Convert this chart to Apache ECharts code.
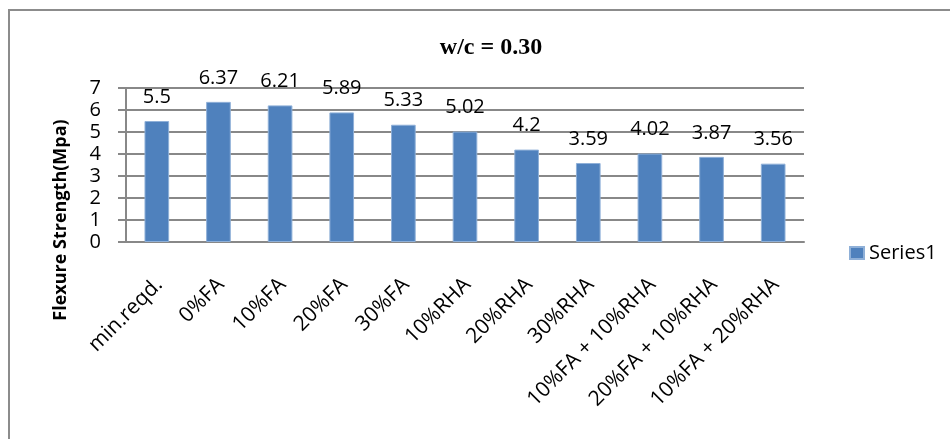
<!DOCTYPE html>
<html><head><meta charset="utf-8">
<script src="https://cdn.jsdelivr.net/npm/echarts@6/dist/echarts.min.js"></script>
<style>html,body{margin:0;padding:0;background:#fff}#c{width:950px;height:439px}</style>
</head><body><div id="c"></div>
<script>
const categories = ["min.reqd.", "0%FA", "10%FA", "20%FA", "30%FA", "10%RHA", "20%RHA", "30%RHA", "10%FA + 10%RHA", "20%FA + 10%RHA", "10%FA + 20%RHA"];
const series1 = [5.5, 6.37, 6.21, 5.89, 5.33, 5.02, 4.2, 3.59, 4.02, 3.87, 3.56];
const yTicks = [0, 1, 2, 3, 4, 5, 6, 7];
const yAxisTitle = 'Flexure Strength(Mpa)';
const FONT = "'Open Sans', Lato, sans-serif";
const chart = echarts.init(document.getElementById('c'));
chart.setOption({
  animation: false,
  backgroundColor: '#fff',
  graphic: [
    {type: 'rect', shape: {x: 9, y: 10, width: 960, height: 450}, style: {fill: 'none', stroke: '#8c8c8c', lineWidth: 2}, silent: true},
    {type: 'text', x: 61, y: 220, rotation: Math.PI / 2,
      style: {text: yAxisTitle, font: "bold 18px 'Open Sans', sans-serif", fill: '#000', textAlign: 'center', textVerticalAlign: 'middle'}}
  ],
  title: {text: 'w/c = 0.30', left: 486, top: 31, textAlign: 'center',
    textStyle: {fontFamily: "'Liberation Serif', 'DejaVu Serif', serif", fontWeight: 'bold', fontSize: 24, color: '#000'}},
  legend: {data: ['Series1'], left: 844, top: 238, orient: 'vertical', itemWidth: 14, itemHeight: 12, itemGap: 6,
    textStyle: {fontFamily: FONT, fontSize: 20, color: '#000'}, icon: 'rect'},
  grid: {left: 126, right: 146, top: 88, bottom: 197, containLabel: false},
  xAxis: {type: 'category', data: categories,
    axisLine: {lineStyle: {color: '#888', width: 2}},
    axisTick: {show: false},
    axisLabel: {rotate: 45, interval: 0, margin: 27, verticalAlign: 'top', padding: [0, 7, 0, 0], fontFamily: FONT, fontSize: 21, color: '#000'}},
  yAxis: {type: 'value', min: 0, max: 7, interval: 1,
    axisLine: {show: true, lineStyle: {color: '#888', width: 2}},
    axisTick: {show: true, length: 8, lineStyle: {color: '#888', width: 2}},
    axisLabel: {margin: 25, fontFamily: FONT, fontSize: 20, color: '#000',
      formatter: v => yTicks.includes(v) ? String(v) : ''},
    splitLine: {lineStyle: {color: '#888', width: 2}}},
  series: [{name: 'Series1', type: 'bar', data: series1, barWidth: '40%',
    itemStyle: {color: '#4F81BD', borderColor: '#8fb0d8', borderWidth: 1},
    label: {show: true, position: 'top', distance: 14, fontFamily: FONT, fontSize: 20, color: '#000'}}]
});
</script></body></html>
